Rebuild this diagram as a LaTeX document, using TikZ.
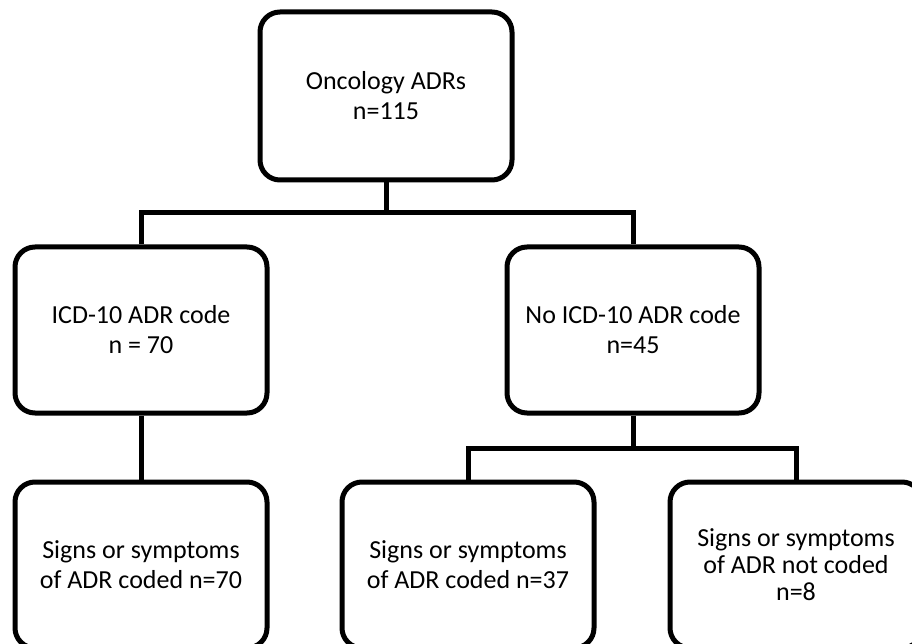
\documentclass[tikz,border=0pt]{standalone}
\usepackage{fontspec}
\setmainfont{Carlito}
\begin{document}
\begin{tikzpicture}[x=1pt,y=-1pt,
  box/.style={draw=black, line width=5pt, rounded corners=20pt, rectangle,
    minimum width=252pt, inner sep=0pt, align=center,
    font=\fontsize{26}{30}\selectfont},
  tightbox/.style={box, font=\fontsize{26}{27}\selectfont},
  conn/.style={draw=black, line width=5pt, line join=miter}]
  \path[use as bounding box] (0,0) rectangle (912,644);
  \clip (0,0) rectangle (912,644);

  % boxes
  \node[box, minimum height=168pt] (top) at (386,96) {Oncology ADRs\\n=115};
  \node[box, minimum height=166pt] (icd) at (141,330) {ICD-10 ADR code\\n = 70};
  \node[box, minimum height=166pt] (noicd) at (633,330) {No ICD-10 ADR code\\n=45};
  \node[box, minimum height=166pt] (coded70) at (141,565) {Signs or symptoms\\of ADR coded n=70};
  \node[box, minimum height=166pt] (coded37) at (468,565) {Signs or symptoms\\of ADR coded n=37};
  \node[tightbox, minimum height=166pt] (notcoded) at (796,565) {Signs or symptoms\\of ADR not coded\\n=8};

  % junction points of the connector buses
  \coordinate (busA) at (386,213);
  \coordinate (busB) at (633,448);

  % connectors
  \draw[conn] (top.south) -- (busA);
  \draw[conn] (icd.north) |- (busA) -| (noicd.north);
  \draw[conn] (icd.south) -- (coded70.north);
  \draw[conn] (noicd.south) -- (busB);
  \draw[conn] (coded37.north) |- (busB) -| (notcoded.north);
\end{tikzpicture}
\end{document}
